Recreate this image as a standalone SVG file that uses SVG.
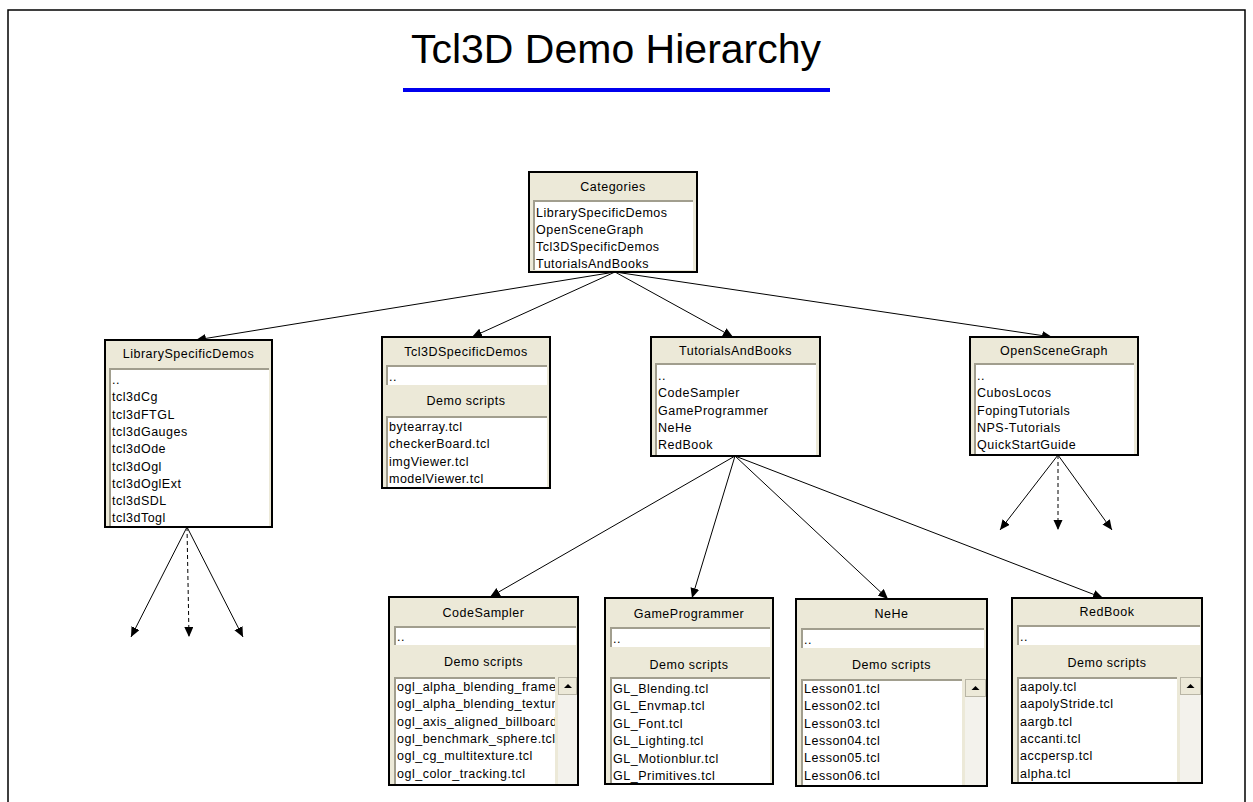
<svg xmlns="http://www.w3.org/2000/svg" width="1253" height="802" viewBox="0 0 1253 802">
<style>
.bg{fill:#fff}
.frame{fill:none;stroke:#000;stroke-width:1.5}
.box{fill:#ECE9D8;stroke:#000;stroke-width:2}
.field{fill:#fff}
.inset{fill:none;stroke:#A19E8E;stroke-width:2}
.t{font-family:"Liberation Sans",Arial,sans-serif;font-size:12.5px;letter-spacing:0.5px;fill:#000}
.h{text-anchor:middle}
.title{font-family:"Liberation Sans",Arial,sans-serif;font-size:41px;fill:#000;text-anchor:middle}
.conn{stroke:#000;stroke-width:1;fill:none;marker-end:url(#arr)}
.dash{stroke-dasharray:4 3}
.sb{fill:#F3F2EC}
.sbbtn{fill:#ECE9D8;stroke:#B9B6A6;stroke-width:1}
</style>
<defs>
<marker id="arr" markerUnits="userSpaceOnUse" markerWidth="11" markerHeight="10" refX="10" refY="4.5" orient="auto">
<path d="M0,0 L10,4.5 L0,9 z" fill="#000"/>
</marker>
<clipPath id="csclip"><rect x="394" y="677" width="161" height="108"/></clipPath>
</defs>
<rect class="bg" x="0" y="0" width="1253" height="802"/>
<path class="frame" d="M8,802 V10 H1245 V802"/>
<g id="title">
<text class="title" x="616" y="63">Tcl3D Demo Hierarchy</text>
<rect x="403" y="88" width="427" height="4" fill="#0000EE"/>
</g>

<g id="connectors">
<path class="conn" d="M615,272 L196,340"/>
<path class="conn" d="M615,272 L472,337"/>
<path class="conn" d="M615,272 L733,337"/>
<path class="conn" d="M615,272 L1052,337"/>
<path class="conn" d="M735,456 L490,597"/>
<path class="conn" d="M735,456 L692,598"/>
<path class="conn" d="M735,456 L888,599"/>
<path class="conn" d="M735,456 L1103,598"/>
<path class="conn" d="M187,527 L131,637"/>
<path class="conn dash" d="M187,527 L189,637"/>
<path class="conn" d="M187,527 L243,637"/>
<path class="conn" d="M1058,455 L1000,530"/>
<path class="conn dash" d="M1058,455 L1058,530"/>
<path class="conn" d="M1058,455 L1112,530"/>
</g>

<g id="categories">
<rect class="box" x="529" y="172" width="168" height="100"/>
<text class="t h" x="613" y="191">Categories</text>
<rect class="field" x="533" y="200" width="160" height="70"/>
<path class="inset" d="M534,270 V201 H693"/>
<text class="t" x="536" y="216.5">LibrarySpecificDemos</text>
<text class="t" x="536" y="233.5">OpenSceneGraph</text>
<text class="t" x="536" y="250.5">Tcl3DSpecificDemos</text>
<text class="t" x="536" y="267.5">TutorialsAndBooks</text>
</g>

<g id="libraryspecificdemos">
<rect class="box" x="105" y="340" width="167" height="187"/>
<text class="t h" x="188.5" y="358">LibrarySpecificDemos</text>
<rect class="field" x="109" y="368" width="160" height="158"/>
<path class="inset" d="M110,526 V369 H269"/>
<text class="t" x="112" y="384">..</text>
<text class="t" x="112" y="401.3">tcl3dCg</text>
<text class="t" x="112" y="418.6">tcl3dFTGL</text>
<text class="t" x="112" y="435.9">tcl3dGauges</text>
<text class="t" x="112" y="453.2">tcl3dOde</text>
<text class="t" x="112" y="470.5">tcl3dOgl</text>
<text class="t" x="112" y="487.8">tcl3dOglExt</text>
<text class="t" x="112" y="505.1">tcl3dSDL</text>
<text class="t" x="112" y="522.4">tcl3dTogl</text>
</g>

<g id="tcl3dspecificdemos">
<rect class="box" x="382" y="337" width="168" height="151"/>
<text class="t h" x="466" y="356">Tcl3DSpecificDemos</text>
<rect class="field" x="386" y="365" width="161" height="20"/>
<path class="inset" d="M387,385 V366 H547"/>
<text class="t" x="389" y="381">..</text>
<text class="t h" x="466" y="405">Demo scripts</text>
<rect class="field" x="386" y="416" width="161" height="71"/>
<path class="inset" d="M387,487 V417 H547"/>
<text class="t" x="389" y="431">bytearray.tcl</text>
<text class="t" x="389" y="448.3">checkerBoard.tcl</text>
<text class="t" x="389" y="465.6">imgViewer.tcl</text>
<text class="t" x="389" y="482.9">modelViewer.tcl</text>
</g>

<g id="tutorialsandbooks">
<rect class="box" x="651" y="337" width="169" height="119"/>
<text class="t h" x="735.5" y="355">TutorialsAndBooks</text>
<rect class="field" x="655" y="363" width="161" height="92"/>
<path class="inset" d="M656,455 V364 H816"/>
<text class="t" x="658" y="380">..</text>
<text class="t" x="658" y="397.3">CodeSampler</text>
<text class="t" x="658" y="414.6">GameProgrammer</text>
<text class="t" x="658" y="431.9">NeHe</text>
<text class="t" x="658" y="449.2">RedBook</text>
</g>

<g id="openscenegraph">
<rect class="box" x="970" y="337" width="168" height="118"/>
<text class="t h" x="1054" y="355">OpenSceneGraph</text>
<rect class="field" x="974" y="363" width="160" height="91"/>
<path class="inset" d="M975,454 V364 H1134"/>
<text class="t" x="977" y="380">..</text>
<text class="t" x="977" y="397.3">CubosLocos</text>
<text class="t" x="977" y="414.6">FopingTutorials</text>
<text class="t" x="977" y="431.9">NPS-Tutorials</text>
<text class="t" x="977" y="449.2">QuickStartGuide</text>
</g>

<g id="codesampler">
<rect class="box" x="389" y="597" width="189" height="188"/>
<text class="t h" x="483.5" y="617">CodeSampler</text>
<rect class="field" x="394" y="626" width="182" height="19"/>
<path class="inset" d="M395,645 V627 H576"/>
<text class="t" x="397" y="641">..</text>
<text class="t h" x="483.5" y="666">Demo scripts</text>
<rect class="field" x="394" y="677" width="161" height="107"/>
<path class="inset" d="M395,784 V678 H555"/>
<g clip-path="url(#csclip)">
<text class="t" x="397" y="691">ogl_alpha_blending_framebuffer.tcl</text>
<text class="t" x="397" y="708.3">ogl_alpha_blending_texture.tcl</text>
<text class="t" x="397" y="725.6">ogl_axis_aligned_billboard.tcl</text>
<text class="t" x="397" y="742.9">ogl_benchmark_sphere.tcl</text>
<text class="t" x="397" y="760.2">ogl_cg_multitexture.tcl</text>
<text class="t" x="397" y="777.5">ogl_color_tracking.tcl</text>
</g>
<rect class="sb" x="558" y="677" width="19" height="107"/>
<rect class="sbbtn" x="558.5" y="677.5" width="18" height="17"/>
<path d="M564,688 L572,688 L568,684 z" fill="#000"/>
</g>

<g id="gameprogrammer">
<rect class="box" x="605" y="598" width="168" height="186"/>
<text class="t h" x="689" y="618">GameProgrammer</text>
<rect class="field" x="610" y="627" width="160" height="20"/>
<path class="inset" d="M611,647 V628 H770"/>
<text class="t" x="613" y="643">..</text>
<text class="t h" x="689" y="669">Demo scripts</text>
<rect class="field" x="610" y="677" width="160" height="106"/>
<path class="inset" d="M611,783 V678 H770"/>
<text class="t" x="613" y="693">GL_Blending.tcl</text>
<text class="t" x="613" y="710.4">GL_Envmap.tcl</text>
<text class="t" x="613" y="727.8">GL_Font.tcl</text>
<text class="t" x="613" y="745.2">GL_Lighting.tcl</text>
<text class="t" x="613" y="762.6">GL_Motionblur.tcl</text>
<text class="t" x="613" y="780">GL_Primitives.tcl</text>
</g>

<g id="nehe">
<rect class="box" x="796" y="599" width="191" height="187"/>
<text class="t h" x="891.5" y="618">NeHe</text>
<rect class="field" x="801" y="628" width="183" height="20"/>
<path class="inset" d="M802,648 V629 H984"/>
<text class="t" x="804" y="644">..</text>
<text class="t h" x="891.5" y="669">Demo scripts</text>
<rect class="field" x="801" y="679" width="161" height="106"/>
<path class="inset" d="M802,785 V680 H962"/>
<text class="t" x="804" y="693">Lesson01.tcl</text>
<text class="t" x="804" y="710.3">Lesson02.tcl</text>
<text class="t" x="804" y="727.6">Lesson03.tcl</text>
<text class="t" x="804" y="744.9">Lesson04.tcl</text>
<text class="t" x="804" y="762.2">Lesson05.tcl</text>
<text class="t" x="804" y="779.5">Lesson06.tcl</text>
<rect class="sb" x="965" y="679" width="21" height="106"/>
<rect class="sbbtn" x="965.5" y="679.5" width="20" height="17"/>
<path d="M971.5,690 L979.5,690 L975.5,686 z" fill="#000"/>
</g>

<g id="redbook">
<rect class="box" x="1012" y="598" width="190" height="185"/>
<text class="t h" x="1107" y="616">RedBook</text>
<rect class="field" x="1017" y="625" width="183" height="20"/>
<path class="inset" d="M1018,645 V626 H1200"/>
<text class="t" x="1020" y="641">..</text>
<text class="t h" x="1107" y="667">Demo scripts</text>
<rect class="field" x="1017" y="677" width="160" height="105"/>
<path class="inset" d="M1018,782 V678 H1177"/>
<text class="t" x="1020" y="691">aapoly.tcl</text>
<text class="t" x="1020" y="708.3">aapolyStride.tcl</text>
<text class="t" x="1020" y="725.6">aargb.tcl</text>
<text class="t" x="1020" y="742.9">accanti.tcl</text>
<text class="t" x="1020" y="760.2">accpersp.tcl</text>
<text class="t" x="1020" y="777.5">alpha.tcl</text>
<rect class="sb" x="1180" y="677" width="21" height="105"/>
<rect class="sbbtn" x="1180.5" y="677.5" width="20" height="17"/>
<path d="M1186.5,688 L1194.5,688 L1190.5,684 z" fill="#000"/>
</g>
</svg>
